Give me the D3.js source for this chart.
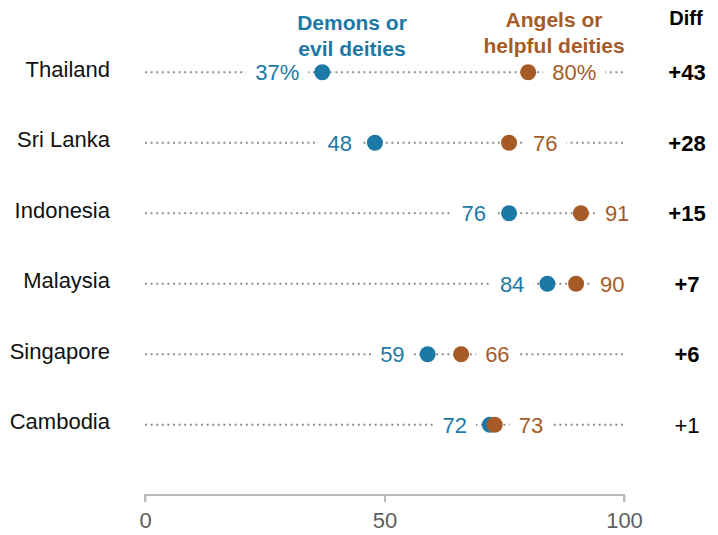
<!DOCTYPE html>
<html>
<head>
<meta charset="utf-8">
<script src="https://cdn.jsdelivr.net/npm/d3@7"></script>
<style>
  body { margin: 0; background: #fff; }
  text { font-family: "Liberation Sans", Arial, sans-serif; }
</style>
</head>
<body>
<svg id="chart" width="718" height="535"></svg>
<script>
// data
var countries = ["Thailand", "Sri Lanka", "Indonesia", "Malaysia", "Singapore", "Cambodia"];
var demons = [37, 48, 76, 84, 59, 72];
var angels = [80, 76, 91, 90, 66, 73];
var diffs = ["+43", "+28", "+15", "+7", "+6", "+1"];
var diffBold = [true, true, true, true, true, false];
var axisTicks = [0, 50, 100];

var BLUE = "#1c79a6";
var BROWN = "#a65b27";

var svg = d3.select("#chart");

var x = d3.scaleLinear().domain([0, 100]).range([145, 624]);
var y = d3.scaleBand().domain(countries).range([37, 460]);

function cy(name) { return y(name) + y.bandwidth() / 2; }

// headers
var headers = [
    { lines: ["Demons or", "evil deities"], x: 352, y: 30, color: BLUE },
    { lines: ["Angels or", "helpful deities"], x: 554, y: 27, color: BROWN }
];
headers.forEach(h => {
    h.lines.forEach((line, i) => {
        svg.append("text")
            .attr("x", h.x)
            .attr("y", h.y + i * 26)
            .attr("text-anchor", "middle")
            .style("font-size", "21px")
            .style("font-weight", "bold")
            .style("fill", h.color)
            .text(line);
    });
});
svg.append("text")
    .attr("x", 686)
    .attr("y", 25)
    .attr("text-anchor", "middle")
    .style("font-size", "20px")
    .style("font-weight", "bold")
    .style("fill", "#000")
    .text("Diff");

countries.forEach((name, i) => {
    var yy = cy(name);
    var row = svg.append("g");

    // country name
    row.append("text")
        .attr("x", 110)
        .attr("y", yy)
        .attr("dy", "0.2em")
        .attr("text-anchor", "end")
        .style("font-size", "22px")
        .style("fill", "#111")
        .text(name);

    // dotted guide across the whole scale
    row.append("line")
        .attr("x1", x(0))
        .attr("x2", x(100))
        .attr("y1", yy)
        .attr("y2", yy)
        .style("stroke", "#8f8f8f")
        .style("stroke-width", 2)
        .style("stroke-dasharray", "2,3.6");

    var suffix = i == 0 ? "%" : "";

    // value labels with white boxes so the dotted line breaks
    var lblBlue = row.append("text")
        .attr("x", x(demons[i]) - 23)
        .attr("y", yy)
        .attr("dy", "0.36em")
        .attr("text-anchor", "end")
        .style("font-size", "22px")
        .style("fill", BLUE)
        .text(demons[i] + suffix);
    var lblBrown = row.append("text")
        .attr("x", x(angels[i]) + 24)
        .attr("y", yy)
        .attr("dy", "0.36em")
        .attr("text-anchor", "start")
        .style("font-size", "22px")
        .style("fill", BROWN)
        .text(angels[i] + suffix);

    [lblBlue, lblBrown].forEach(lbl => {
        var bb = lbl.node().getBBox();
        row.insert("rect", "text:nth-of-type(2)")
            .attr("x", bb.x - 9)
            .attr("y", yy - 4)
            .attr("width", bb.width + 18)
            .attr("height", 8)
            .style("fill", "#fff");
    });

    row.append("circle")
        .attr("cx", x(demons[i]))
        .attr("cy", yy)
        .attr("r", 8)
        .style("fill", BLUE);
    row.append("circle")
        .attr("cx", x(angels[i]))
        .attr("cy", yy)
        .attr("r", 8)
        .style("fill", BROWN);

    row.append("text")
        .attr("x", 687)
        .attr("y", yy)
        .attr("dy", "0.36em")
        .attr("text-anchor", "middle")
        .style("font-size", "22px")
        .style("font-weight", diffBold[i] ? "bold" : "normal")
        .style("fill", "#000")
        .text(diffs[i]);
});

// bottom axis
var axis = svg.append("g")
    .attr("transform", "translate(0,495)")
    .call(d3.axisBottom(x).tickValues(axisTicks).tickSize(7).tickPadding(10));
axis.select(".domain").style("stroke", "#bbb").style("stroke-width", 2)
    .attr("d", "M" + x(0) + ",7V0H" + x(100) + "V7");
axis.selectAll(".tick line").style("stroke", "#bbb").style("stroke-width", 2);
axis.selectAll(".tick text")
    .style("font-family", "Liberation Sans, Arial, sans-serif")
    .style("font-size", "22px")
    .style("fill", "#5e5e5e");
</script>
</body>
</html>
